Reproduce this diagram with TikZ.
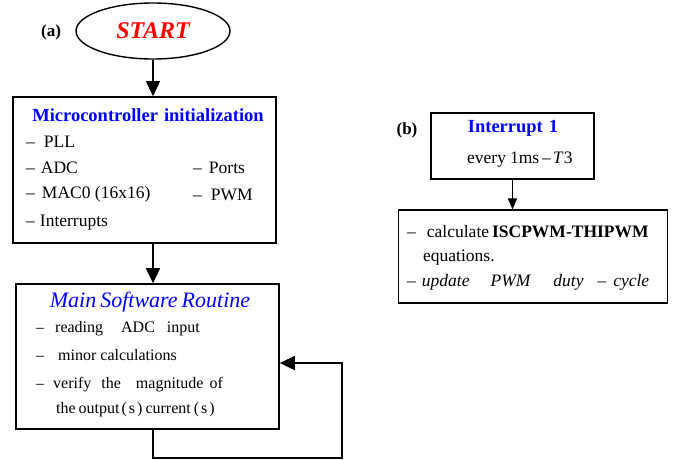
\documentclass[tikz,border=0pt]{standalone}
\usepackage{fontspec}
\setmainfont{Liberation Serif}
\usetikzlibrary{shapes.geometric,arrows.meta}
\tikzstyle{every node}=[inner sep=0pt]
\tikzstyle{box}=[draw,line width=1.6pt]
\tikzstyle{thinbox}=[draw,line width=1.1pt]
\tikzstyle{item}=[anchor=base west,font=\fontsize{17.5}{20}\selectfont]
\tikzstyle{smallitem}=[anchor=base west,font=\fontsize{16}{19}\selectfont]
\tikzstyle{title}=[anchor=base,text=blue]
\tikzstyle{flow}=[line width=1.6pt,-{Triangle[length=15pt,width=14pt]}]
\tikzstyle{thinflow}=[line width=1pt,-{Triangle[length=11pt,width=9pt]}]

\begin{document}
\begin{tikzpicture}[x=1pt,y=-1pt]
	\useasboundingbox (0,0) rectangle (674,459);

	% (a) main program
	\node(la)[anchor=base,font=\fontsize{17}{20}\selectfont\bfseries] at (51,36) {(a)};
	\node(start)[draw,ellipse,line width=1.4pt,minimum width=154pt,minimum height=56pt] at (153,31)
		{\fontsize{24}{28}\selectfont\bfseries\itshape\color{red}START};

	\node(init)[box,minimum width=263pt,minimum height=146pt] at (144.5,170) {};
	\node(initT)[title,font=\fontsize{18.5}{22}\selectfont\bfseries] at (148,121) {Microcontroller\hspace{6pt}initialization};
	\node(pll)[item] at (26,147) {--\hspace{9pt}PLL};
	\node(adc)[item] at (26,173) {--\hspace{6pt}ADC};
	\node(mac)[item] at (26,198) {--\hspace{7pt}MAC0 (16x16)};
	\node(irq)[item] at (26,226) {--\hspace{5pt}Interrupts};
	\node(ports)[item] at (193,173) {--\hspace{7pt}Ports};
	\node(pwm)[item] at (193,200) {--\hspace{9pt}PWM};

	\node(main)[box,minimum width=263pt,minimum height=145pt] at (147.5,356.5) {};
	\node(mainT)[title,font=\fontsize{22}{26}\selectfont\itshape] at (150,307) {Main\hspace{4pt}Software\hspace{4pt}Routine};
	\node(read)[smallitem] at (36,332) {--\hspace{11pt}reading\hspace{18pt}ADC\hspace{12pt}input};
	\node(minor)[smallitem] at (36,360) {--\hspace{14pt}minor\hspace{4pt}calculations};
	\node(verify)[smallitem] at (36,388) {--\hspace{9pt}verify\hspace{10pt}the\hspace{15pt}magnitude\hspace{6pt}of};
	\node(output)[smallitem] at (56,413) {the\hspace{3pt}output\hspace{2pt}(\hspace{2pt}s\hspace{2pt})\hspace{3pt}current\hspace{3pt}(\hspace{2pt}s\hspace{2pt})};

	\coordinate(loop) at (342,458);
	\coordinate(back) at (342,363);

	\draw[flow] (start.south) -- (start.south |- init.north);
	\draw[flow] (start |- init.south) -- (start |- main.north);
	\draw[flow] (start |- main.south) |- (loop) -- (back) -- (back -| main.east);

	% (b) interrupt routine
	\node(lb)[anchor=base,font=\fontsize{17}{20}\selectfont\bfseries] at (407,134) {(b)};
	\node(intr)[thinbox,minimum width=163pt,minimum height=66pt] at (512.5,146) {};
	\node(intrT)[title,font=\fontsize{18.5}{22}\selectfont\bfseries] at (513,132) {Interrupt\hspace{6pt}1};
	\node(every)[item] at (467,163) {every\hspace{4pt}1ms\hspace{3pt}--\hspace{2pt}\textit{T}3};

	\node(calc)[thinbox,minimum width=269pt,minimum height=93pt] at (533,256.5) {};
	\node(eq)[item] at (407,237) {--\hspace{11pt}calculate\hspace{3pt}\textbf{ISCPWM-THIPWM}};
	\node(eq2)[item] at (423,261) {equations.};
	\node(upd)[item,font=\fontsize{17.5}{20}\selectfont\itshape] at (407,286)
		{--\hspace{6pt}update\hspace{21pt}PWM\hspace{23pt}duty\hspace{14pt}--\hspace{7pt}cycle};

	\draw[thinflow] (intr) -- (calc.north -| intr);
\end{tikzpicture}
\end{document}
